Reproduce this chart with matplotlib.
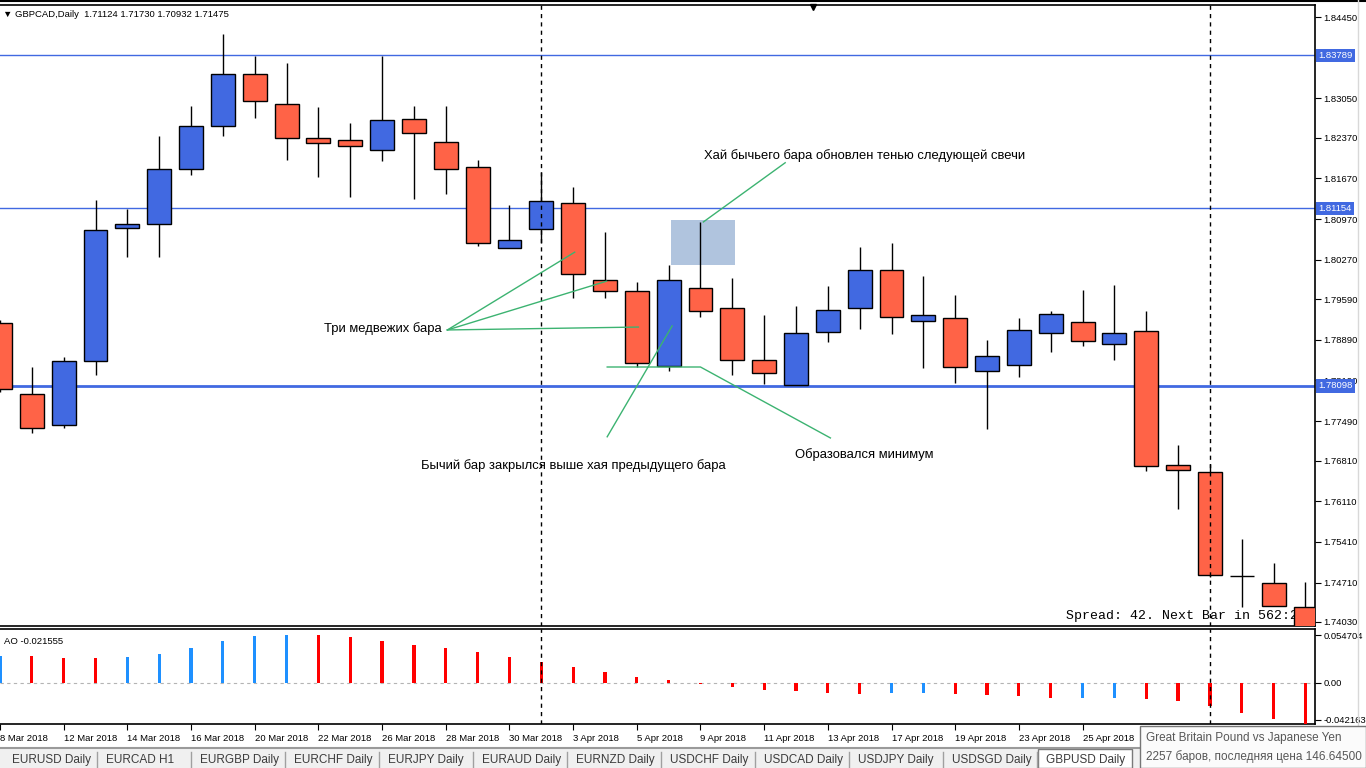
import numpy as np
import matplotlib
matplotlib.use("Agg")
import matplotlib.pyplot as plt
from matplotlib.patches import Rectangle
import matplotlib.transforms as mtransforms

# GBPCAD Daily, prices (first and last bars are cut by the window)
opens = [1.79180, 1.77957, 1.77423, 1.78525, 1.80816, 1.80885, 1.81832, 1.82573, 1.83469, 1.82952,
         1.82366, 1.82332, 1.82160, 1.82694, 1.82297, 1.81867, 1.80472, 1.80799, 1.81247, 1.79921,
         1.79731, 1.78439, 1.79783, 1.79438, 1.78543, 1.78112, 1.79025, 1.79438, 1.80093, 1.79214,
         1.79266, 1.78353, 1.78457, 1.79008, 1.79197, 1.78818, 1.79042, 1.76734, 1.76614, 1.74823,
         1.74702, 1.74289]
highs = [1.79232, 1.78422, 1.78594, 1.81298, 1.81143, 1.82401, 1.82917, 1.84157, 1.83779, 1.83658,
         1.82900, 1.82625, 1.83779, 1.82917, 1.82917, 1.81987, 1.81212, 1.81781, 1.81522, 1.80747,
         1.79886, 1.80179, 1.80920, 1.79955, 1.79318, 1.79473, 1.79817, 1.80489, 1.80558, 1.79990,
         1.79662, 1.78887, 1.79266, 1.79387, 1.79748, 1.79834, 1.79387, 1.77079, 1.76752, 1.75460,
         1.75047, 1.74719]
lows = [1.77992, 1.77285, 1.77372, 1.78284, 1.80317, 1.80317, 1.81729, 1.82401, 1.82711, 1.81987,
        1.81695, 1.81350, 1.81970, 1.81316, 1.81402, 1.80506, 1.80472, 1.80558, 1.79611, 1.79611,
        1.78422, 1.78353, 1.79283, 1.78284, 1.78129, 1.78112, 1.78853, 1.79077, 1.78991, 1.78405,
        1.78147, 1.77354, 1.78250, 1.78680, 1.78784, 1.78543, 1.76631, 1.75977, 1.74805, 1.74289,
        1.74306, 1.73893]
closes = [1.78043, 1.77372, 1.78525, 1.80782, 1.80885, 1.81832, 1.82573, 1.83469, 1.83004, 1.82366,
          1.82280, 1.82228, 1.82676, 1.82452, 1.81832, 1.80558, 1.80610, 1.81281, 1.80024, 1.79731,
          1.78491, 1.79921, 1.79387, 1.78543, 1.78319, 1.79008, 1.79404, 1.80093, 1.79283, 1.79318,
          1.78422, 1.78612, 1.79059, 1.79335, 1.78870, 1.79008, 1.76717, 1.76648, 1.74840, 1.74823,
          1.74306, 1.73893]

# Awesome Oscillator
ao = [0.0312, 0.0311, 0.0289, 0.0288, 0.0300, 0.0334, 0.0403, 0.0483, 0.0540, 0.054704,
      0.0546, 0.0528, 0.0483, 0.0437, 0.0403, 0.0357, 0.0300, 0.0243, 0.0186, 0.0129,
      0.0072, 0.0038, -0.0008, -0.0049, -0.0084, -0.0095, -0.0118, -0.0129, -0.0118, -0.0116,
      -0.0120, -0.0141, -0.0152, -0.0175, -0.0173, -0.0171, -0.0186, -0.0209, -0.0266, -0.0346,
      -0.0410, -0.0480]

date_labels = ["8 Mar 2018", "12 Mar 2018", "14 Mar 2018", "16 Mar 2018", "20 Mar 2018",
               "22 Mar 2018", "26 Mar 2018", "28 Mar 2018", "30 Mar 2018", "3 Apr 2018",
               "5 Apr 2018", "9 Apr 2018", "11 Apr 2018", "13 Apr 2018", "17 Apr 2018",
               "19 Apr 2018", "23 Apr 2018", "25 Apr 2018"]
price_ticks = [1.84450, 1.83050, 1.82370, 1.81670, 1.80970, 1.80270, 1.79590, 1.78890,
               1.78190, 1.77490, 1.76810, 1.76110, 1.75410, 1.74710, 1.74030]
levels = [1.83789, 1.81154, 1.78098]
ao_ticks = [0.054704, 0.0, -0.042163]
ao_tick_labels = ["0.054704", "0.00", "-0.042163"]
tabs = ["EURUSD Daily", "EURCAD H1", "EURGBP Daily", "EURCHF Daily", "EURJPY Daily",
        "EURAUD Daily", "EURNZD Daily", "USDCHF Daily", "USDCAD Daily", "USDJPY Daily",
        "USDSGD Daily", "GBPUSD Daily"]

BLUE = "#4169E1"
RED = "#FF6347"
GREEN = "#3CB371"
AX_FONT = ["Liberation Sans", "DejaVu Sans"]
NOTE_FONT = ["Liberation Sans Narrow", "Liberation Sans", "DejaVu Sans"]
NOTE_SIZE = 9.4

W, H = 1366, 768
fig = plt.figure(figsize=(W / 100, H / 100), dpi=100)
fig.patch.set_facecolor("white")


def box(l, t, r, b):
    # pixel box (top-left origin) -> figure fraction rect
    return [l / W, 1 - b / H, (r - l) / W, (b - t) / H]


ax = fig.add_axes(box(0, 5, 1315, 626))
ax2 = fig.add_axes(box(0, 629, 1315, 724), sharex=ax)

x = np.arange(len(opens))
o = np.array(opens)
c = np.array(closes)
cols = np.where(c > o, BLUE, RED)

ax.vlines(x, lows, highs, color="black", lw=1, zorder=3)
ax.bar(x, np.abs(c - o), bottom=np.minimum(o, c), width=0.75, color=cols,
       edgecolor="black", linewidth=1, zorder=4)

for lv, lw in zip(levels, [1, 1, 2]):
    ax.axhline(lv, color=BLUE, lw=lw, zorder=2)

ax.set_xlim(0.016, 41.3)
ax.set_ylim(1.73961, 1.84657)

ax.yaxis.tick_right()
ax.set_yticks(price_ticks)
ax.set_yticklabels([f"{p:.5f}" for p in price_ticks], family=AX_FONT, fontsize=6.8)
ax.tick_params(axis="y", length=4, width=0.8, pad=2, colors="black")
ax.tick_params(axis="x", bottom=False, labelbottom=False)
ax.spines["left"].set_visible(False)
for s in ["top", "right", "bottom"]:
    ax.spines[s].set_linewidth(1.2)

# level price boxes on the scale (they cover the regular label underneath, as in the terminal)
trans = mtransforms.blended_transform_factory(ax.transAxes, ax.transData)
for lv in levels:
    ax.text(1.0025, lv, f"{lv:.5f}", transform=trans, ha="left", va="center",
            fontsize=6.8, family=AX_FONT, color="white", zorder=10, clip_on=False,
            bbox=dict(boxstyle="square,pad=0.25", fc=BLUE, ec="none"))

for vx in [17, 38]:
    ax.axvline(vx, color="black", lw=1, ls=(0, (3, 3)), zorder=5)
    ax2.axvline(vx, color="black", lw=1, ls=(0, (3, 3)), zorder=5)

# header and chart shift marker
ax.text(0.002, 0.985, "\u25bc GBPCAD,Daily  1.71124 1.71730 1.70932 1.71475", transform=ax.transAxes,
        ha="left", va="center", fontsize=6.8, family=AX_FONT)
ax.plot([0.6183], [0.997], marker="v", color="black", markersize=5, transform=ax.transAxes, clip_on=False)

# spread info
ax.text(0.8106, 0.016, "Spread: 42. Next Bar in 562:20", transform=ax.transAxes, ha="left",
        va="center", fontsize=9.5, family=["Liberation Mono", "DejaVu Sans Mono"], zorder=1)

# annotations
ax.add_patch(Rectangle((21.08, 1.80179), 2.01, 0.00775, facecolor="#B0C4DE", edgecolor="none", zorder=1))

ax.text(13.86, 1.7909, "Три медвежих бара", ha="right", va="center", fontsize=NOTE_SIZE, family=NOTE_FONT)
for tx, ty in [(18.05, 1.8040), (19.05, 1.7990), (20.05, 1.7911)]:
    ax.plot([14.05, tx], [1.7906, ty], color=GREEN, lw=1, zorder=6)

ax.text(22.12, 1.8207, "Хай бычьего бара обновлен тенью следующей свечи", ha="left", va="center",
        fontsize=NOTE_SIZE, family=NOTE_FONT)
ax.plot([22.09, 24.66], [1.8092, 1.8194], color=GREEN, lw=1, zorder=6)

ax.text(13.23, 1.7673, "Бычий бар закрылся выше хая предыдущего бара", ha="left", va="center",
        fontsize=NOTE_SIZE, family=NOTE_FONT)
ax.plot([19.07, 21.11], [1.7722, 1.7913], color=GREEN, lw=1, zorder=6)

ax.text(24.98, 1.7691, "Образовался минимум", ha="left", va="center", fontsize=NOTE_SIZE, family=NOTE_FONT)
ax.plot([19.07, 22.0, 26.08], [1.78422, 1.78422, 1.7720], color=GREEN, lw=1, zorder=6)

# AO panel
ao_arr = np.array(ao)
ao_up = np.r_[True, ao_arr[1:] > ao_arr[:-1]]
ax2.bar(x, ao_arr, width=0.1, color=np.where(ao_up, "#1E90FF", "#FF0000"), zorder=3)
ax2.axhline(0, color="#b4b4b4", lw=0.8, ls=(0, (3, 3)), zorder=1)
ax2.set_ylim(-0.04674, 0.06156)
ax2.yaxis.tick_right()
ax2.set_yticks(ao_ticks)
ax2.set_yticklabels(ao_tick_labels, family=AX_FONT, fontsize=6.8)
ax2.tick_params(axis="y", length=4, width=0.8, pad=2)
ax2.spines["left"].set_visible(False)
for s in ["top", "right", "bottom"]:
    ax2.spines[s].set_linewidth(1.2)
ax2.text(0.003, 0.87, "AO -0.021555", transform=ax2.transAxes, ha="left", va="center",
         fontsize=6.8, family=AX_FONT)

ax2.set_xticks(np.arange(0, 2 * len(date_labels), 2))
ax2.set_xticklabels(date_labels, family=AX_FONT, fontsize=6.8, ha="left")
ax2.tick_params(axis="x", length=4, width=0.8, pad=3)

# window chrome: top border, right strip, tab bar, tooltip
fig.add_artist(plt.Line2D([0, 1], [1 - 1 / H, 1 - 1 / H], color="black", lw=1.5))
fig.add_artist(plt.Line2D([1358 / W, 1358 / W], [1 - 748 / H, 1], color="#d8d8d8", lw=1))
fig.add_artist(Rectangle((0, 0), 1, 20 / H, transform=fig.transFigure, fc="#f0f0f0", ec="none"))
fig.add_artist(plt.Line2D([0, 1], [20 / H, 20 / H], color="#9a9a9a", lw=1.5))
for i, name in enumerate(tabs):
    left = 12 + i * 94.0
    if name == "GBPUSD Daily":
        fig.add_artist(Rectangle(((left - 8) / W, 0), 94 / W, 19 / H, transform=fig.transFigure,
                                 fc="white", ec="#7a7a7a", lw=1))
    fig.text(left / W, 8 / H, name, ha="left", va="center", fontsize=8.5, color="#3c3c3c",
             family=["Liberation Sans", "DejaVu Sans"])
    if i < len(tabs) - 1:
        sx = (left + 85) / W
        fig.add_artist(plt.Line2D([sx, sx], [0, 16 / H], color="#a0a0a0", lw=1))

fig.add_artist(Rectangle((1140 / W, 0), (W - 1140) / W, 42 / H, transform=fig.transFigure,
                         fc="#fbfbfb", ec="#767676", lw=1, zorder=20))
fig.text(1146 / W, 1 - 738 / H, "Great Britain Pound vs Japanese Yen", ha="left", va="center",
         fontsize=8.5, color="#575757", family=["Liberation Sans", "DejaVu Sans"], zorder=21)
fig.text(1146 / W, 1 - 757 / H, "2257 баров, последняя цена 146.64500", ha="left", va="center",
         fontsize=8.5, color="#575757", family=["Liberation Sans", "DejaVu Sans"], zorder=21)

fig.savefig("out.png", dpi=100)
